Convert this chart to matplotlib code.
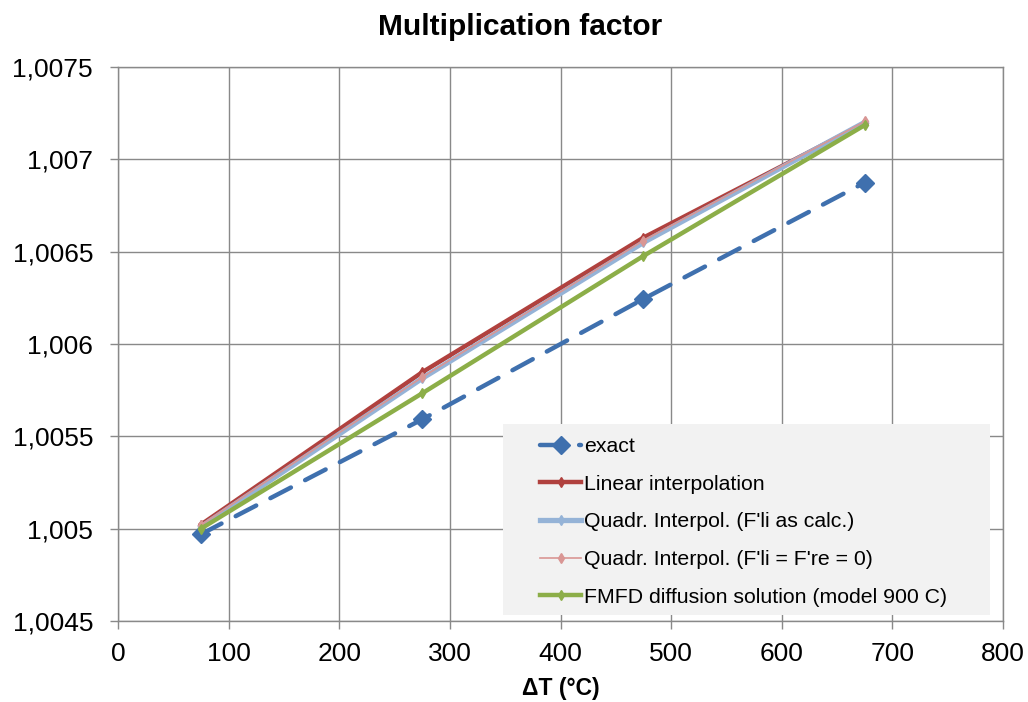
import matplotlib
matplotlib.use("Agg")
import matplotlib.pyplot as plt
from matplotlib.patches import Rectangle

plt.rcParams['font.family'] = ['Liberation Sans', 'DejaVu Sans']

dT = [75, 275, 475, 675]
exact = [1.00497, 1.005592, 1.006244, 1.006874]
linear = [1.005022, 1.005847, 1.006576, 1.007195]
quadr_calc = [1.00501, 1.005814, 1.00655, 1.007200]
quadr_zero = [1.00502, 1.005820, 1.00656, 1.007205]
fmfd = [1.005000, 1.005733, 1.006477, 1.007185]

yticks = [1.0045, 1.005, 1.0055, 1.006, 1.0065, 1.007, 1.0075]
ytick_labels = ["1,0045", "1,005", "1,0055", "1,006", "1,0065", "1,007", "1,0075"]
xticks = [0, 100, 200, 300, 400, 500, 600, 700, 800]

fig = plt.figure(figsize=(10.28, 7.02), dpi=100)
ax = fig.add_axes([0.1148, 0.1154, 0.8609, 0.7892])

ax.plot(dT, exact, color='#3F70AE', lw=3.2, ls=(0, (5.2, 3.6)), marker='D', ms=9,
        dash_capstyle='round', label='exact', zorder=3)
ax.plot(dT, linear, color='#B0413E', lw=3.2, marker='d', ms=5, label='Linear interpolation', zorder=4)
ax.plot(dT, quadr_calc, color='#95B3D7', lw=3.8, marker='d', ms=5,
        label="Quadr. Interpol. (F'li as calc.)", zorder=5)
ax.plot(dT, quadr_zero, color='#D99694', lw=1.2, marker='d', ms=5,
        label="Quadr. Interpol. (F'li = F're = 0)", zorder=6)
ax.plot(dT, fmfd, color='#8CAE48', lw=3.2, marker='d', ms=5,
        label='FMFD diffusion solution (model 900 C)', zorder=7)

ax.set_xlim(0, 800)
ax.set_ylim(1.0045, 1.0075)
ax.set_xticks(xticks)
ax.set_xticklabels([str(x) for x in xticks])
ax.set_yticks(yticks)
ax.set_yticklabels(ytick_labels)
ax.tick_params(axis='both', labelsize=19, color='#898989', length=6, width=1)
ax.tick_params(axis='x', pad=9)
ax.tick_params(axis='y', pad=12)
ax.grid(True, color='#898989', lw=1)
ax.set_axisbelow(True)
for s in ax.spines.values():
    s.set_color('#898989')
    s.set_linewidth(1)

fig.suptitle('Multiplication factor', fontsize=21.5, fontweight='bold',
             x=0.506, y=0.962, va='center')
ax.set_xlabel('ΔT (°C)', fontsize=16.5, fontweight='bold')
ax.xaxis.set_label_coords(0.5, -0.101)

# legend background
ax.add_patch(Rectangle((0.435, 0.0108), 0.5503, 0.3448, transform=ax.transAxes,
                       facecolor='#F2F2F2', edgecolor='none', zorder=9))
leg = ax.legend(loc='upper left', bbox_to_anchor=(0.4768, 0.332), fontsize=15.3,
                frameon=False, handlelength=1.95, handletextpad=0.12,
                labelspacing=0.88, borderpad=0, borderaxespad=0)
leg.set_zorder(10)

fig.savefig('out.png', dpi=100)
